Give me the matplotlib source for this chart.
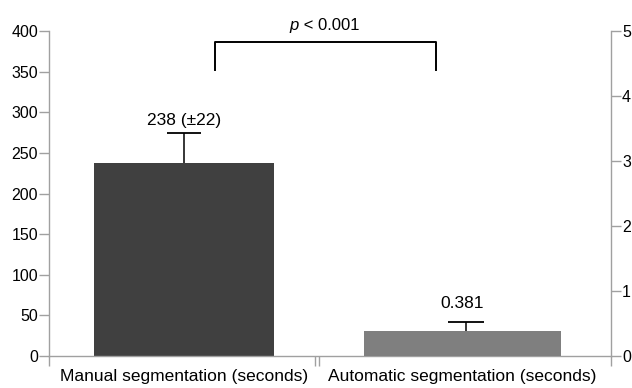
import matplotlib
matplotlib.use("Agg")
import matplotlib.pyplot as plt

plt.rcParams['font.family'] = ['Liberation Sans', 'DejaVu Sans']

categories = ["Manual segmentation (seconds)", "Automatic segmentation (seconds)"]
manual_value = [238]
manual_err = [37]
auto_value = [0.381]
auto_err = [0.142]
bar_labels = ["238 (\u00b122)", "0.381"]
left_ticks = [0, 50, 100, 150, 200, 250, 300, 350, 400]
right_ticks = [0, 1, 2, 3, 4, 5]

W, H = 632, 388
fig = plt.figure(figsize=(W / 100, H / 100), dpi=100)
L, R, T, B = 49, 611, 31, 356
ax = fig.add_axes([L / W, (H - B) / H, (R - L) / W, (B - T) / H])
ax2 = ax.twinx()

c1, c2 = 184, 462.5
unit = c2 - c1
def px2x(p):
    return (p - c1) / unit

ax.set_xlim(px2x(L), px2x(R))
ax.set_ylim(0, 400)
ax2.set_ylim(0, 5)

spine_col = '#a0a0a0'
ax.bar([0], manual_value, width=180 / unit, color='#404040', zorder=2)
eb1 = ax.errorbar([0], manual_value, yerr=[[0], manual_err], fmt='none', ecolor='black',
                  elinewidth=1.1, capsize=12.5, capthick=1.3, zorder=3)
eb1[1][0].set_visible(False)
ax2.bar([1], auto_value, width=197 / unit, color='#7f7f7f', zorder=2)
eb2 = ax2.errorbar([px2x(466)], auto_value, yerr=[[0], auto_err], fmt='none', ecolor='black',
                   elinewidth=1.1, capsize=12.8, capthick=1.3, zorder=3)
eb2[1][0].set_visible(False)

fs = 12.5
tfs = 11.5
ax.text(0, 290, bar_labels[0], ha='center', va='center', fontsize=fs)
ax2.text(1, 64 / 80, bar_labels[1], ha='center', va='center', fontsize=fs)

bx0, bx1 = px2x(215), px2x(436)
ytop, ybot = 386.5, 352
ax.plot([bx0, bx0, bx1, bx1], [ybot, ytop, ytop, ybot], color='black', lw=1.4,
        clip_on=False, zorder=4)
xm = px2x(299)
ax.text(xm, 407, "p", ha='right', va='center', fontsize=12, style='italic')
ax.text(xm, 407, " < 0.001", ha='left', va='center', fontsize=12)

for a in (ax, ax2):
    for s in a.spines.values():
        s.set_color(spine_col)
        s.set_linewidth(1.0)
    a.spines['top'].set_visible(False)

ax.spines['right'].set_visible(False)
ax2.spines['left'].set_visible(False)
ax2.spines['bottom'].set_visible(False)

ax.set_yticks(left_ticks)
ax.set_yticklabels([str(t) for t in left_ticks])
ax2.set_yticks(right_ticks)
ax2.set_yticklabels([str(t) for t in right_ticks])
ax.tick_params(axis='y', direction='out', length=7, width=1.0, color=spine_col,
               labelsize=tfs, pad=1)
ax2.tick_params(axis='y', direction='out', length=7, width=1.0, color=spine_col,
                labelsize=tfs, pad=1)

ax.set_xticks([0, 1])
ax.set_xticklabels(categories)
ax.tick_params(axis='x', which='major', length=0, labelsize=fs, pad=9)
ax.set_xticks([px2x(L), px2x(R), px2x(314.5), px2x(318.5)], minor=True)
ax.tick_params(axis='x', which='minor', direction='out', length=7, width=1.0,
               color=spine_col)

fig.savefig("out.png", dpi=100)
